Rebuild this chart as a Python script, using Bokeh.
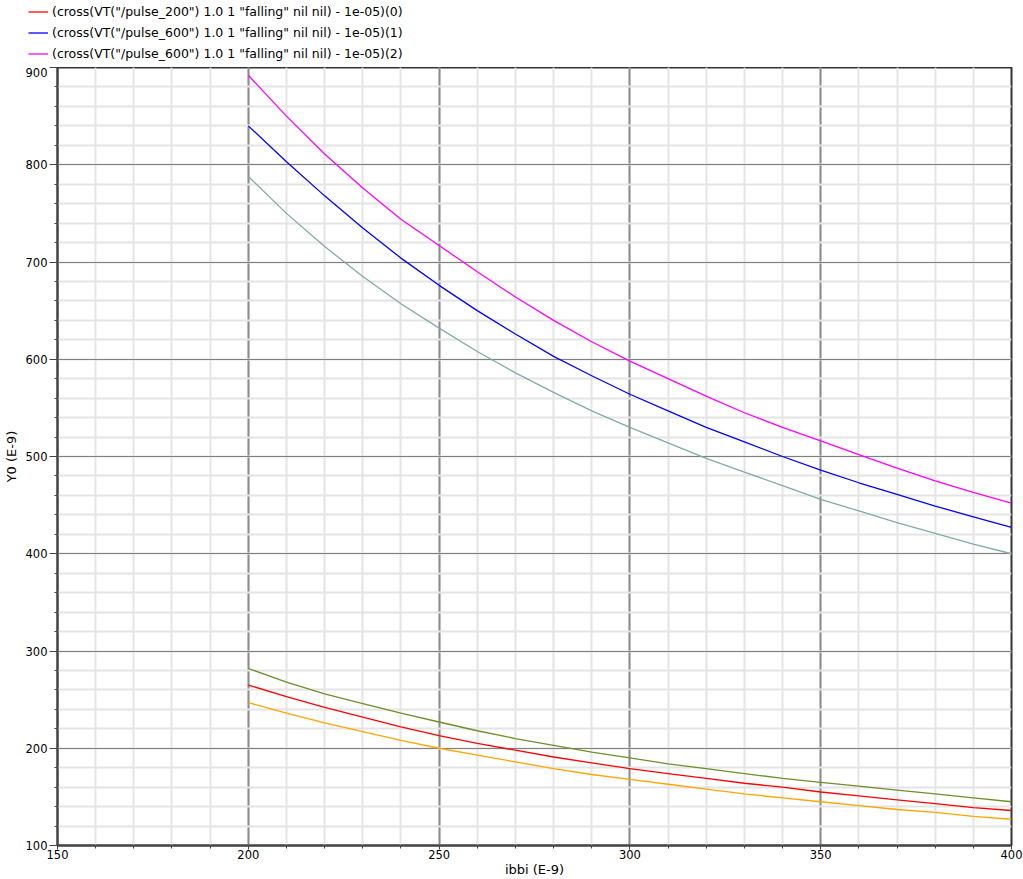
from bokeh.plotting import figure
from bokeh.layouts import column
from bokeh.models import Range1d, SingleIntervalTicker, Legend, LegendItem
from bokeh.embed import file_html
from bokeh.resources import INLINE

x = [200, 210, 220, 230, 240, 250, 260, 270, 280, 290, 300,
     310, 320, 330, 340, 350, 360, 370, 380, 390, 400]

magenta = [892, 850, 811, 776, 744, 717, 690, 664, 640, 618, 598,
           580, 562, 545, 530, 516, 502, 488, 475, 463, 452]
blue = [840, 803, 768, 735, 704, 676, 650, 626, 603, 583, 564,
        547, 530, 515, 500, 486, 473, 461, 449, 438, 427]
teal = [788, 750, 716, 685, 657, 632, 608, 586, 566, 547, 530,
        514, 498, 484, 470, 456, 444, 432, 421, 410, 400]
olive = [282, 268, 256, 246, 236, 227, 218, 210, 203, 196, 190,
         184, 179, 174, 169, 165, 161, 157, 153, 149, 145]
red = [265, 253, 242, 232, 222, 213, 205, 198, 191, 185, 179,
       174, 169, 164, 160, 155, 151, 147, 143, 139, 136]
orange = [247, 236, 226, 217, 208, 200, 193, 186, 179, 173, 168,
          163, 158, 153, 149, 145, 141, 137, 134, 130, 127]

labels = [
    '(cross(VT("/pulse_200") 1.0 1 "falling" nil nil) - 1e-05)(0)',
    '(cross(VT("/pulse_600") 1.0 1 "falling" nil nil) - 1e-05)(1)',
    '(cross(VT("/pulse_600") 1.0 1 "falling" nil nil) - 1e-05)(2)',
]

FONT = "DejaVu Sans"
lw = 1.3

p = figure(width=1023, height=812, output_backend="svg", toolbar_location=None,
           x_range=Range1d(150, 400), y_range=Range1d(100, 900),
           min_border_left=57, min_border_right=12, min_border_top=0,
           min_border_bottom=34)
p.frame_align = False
p.background_fill_color = "white"
p.border_fill_color = "white"
p.outline_line_color = "#333333"
p.outline_line_width = 2

p.xaxis.ticker = SingleIntervalTicker(interval=50, num_minor_ticks=5)
p.yaxis.ticker = SingleIntervalTicker(interval=100, num_minor_ticks=5)
p.xgrid.ticker = p.xaxis.ticker
p.ygrid.ticker = p.yaxis.ticker

for ax in (p.xaxis[0], p.yaxis[0]):
    ax.axis_line_color = "#444444"
    ax.axis_line_width = 2
    ax.major_tick_line_color = "#444444"
    ax.minor_tick_line_color = "#444444"
    ax.major_tick_in = 0
    ax.minor_tick_out = 3
    ax.minor_tick_in = 0
    ax.major_label_text_font = FONT
    ax.major_label_text_font_size = "11.5px"
    ax.major_label_text_color = "black"
    ax.axis_label_text_font = FONT
    ax.axis_label_text_font_size = "13px"
    ax.axis_label_text_font_style = "normal"
    ax.axis_label_text_color = "black"

p.xaxis.axis_label = "ibbi (E-9)"
p.yaxis.axis_label = "Y0 (E-9)"
p.xaxis.major_tick_out = 4
p.xaxis.major_label_standoff = 0
p.xaxis.axis_label_standoff = 0
p.yaxis.major_tick_out = 8
p.yaxis.major_label_standoff = 2
p.yaxis.axis_label_standoff = 4

p.xgrid.grid_line_color = "#8c8c8c"
p.xgrid.grid_line_width = 2
p.xgrid.minor_grid_line_color = "#e4e4e4"
p.xgrid.minor_grid_line_width = 2
p.ygrid.grid_line_color = "#808080"
p.ygrid.grid_line_width = 1
p.ygrid.minor_grid_line_color = "#e4e4e4"
p.ygrid.minor_grid_line_width = 2

p.line(x, teal, line_color="#80aaaa", line_width=lw)
p.line(x, olive, line_color="#6e8f2a", line_width=lw)
p.line(x, orange, line_color="#ffa500", line_width=lw)
p.line(x, red, line_color="#ff0000", line_width=lw)
p.line(x, blue, line_color="#0000ff", line_width=lw)
p.line(x, magenta, line_color="#ff00ff", line_width=lw)

# legend strip above the plot (same series, drawn outside its visible range)
lf = figure(width=1023, height=67, output_backend="svg", toolbar_location=None,
            x_range=Range1d(0, 1), y_range=Range1d(0, 1),
            x_axis_location=None, y_axis_location=None, min_border=0)
lf.frame_align = False
lf.grid.visible = False
lf.outline_line_color = None
lf.background_fill_color = "white"
lf.border_fill_color = "white"
lr0 = lf.line(x, red, line_color="#ff0000", line_width=lw)
lr1 = lf.line(x, blue, line_color="#0000ff", line_width=lw)
lr2 = lf.line(x, magenta, line_color="#ff00ff", line_width=lw)
legend = Legend(items=[
    LegendItem(label=labels[0], renderers=[lr0]),
    LegendItem(label=labels[1], renderers=[lr1]),
    LegendItem(label=labels[2], renderers=[lr2]),
], location=(28, 6))
legend.border_line_color = None
legend.background_fill_alpha = 0
legend.padding = 0
legend.margin = 0
legend.spacing = 6
legend.label_height = 15
legend.glyph_height = 15
legend.glyph_width = 20
legend.label_standoff = 4
legend.label_text_font = FONT
legend.label_text_font_size = "12.5px"
legend.label_text_color = "black"
lf.add_layout(legend, "center")

layout = column(lf, p, spacing=0)
open("out.html", "w").write(file_html(layout, INLINE))
